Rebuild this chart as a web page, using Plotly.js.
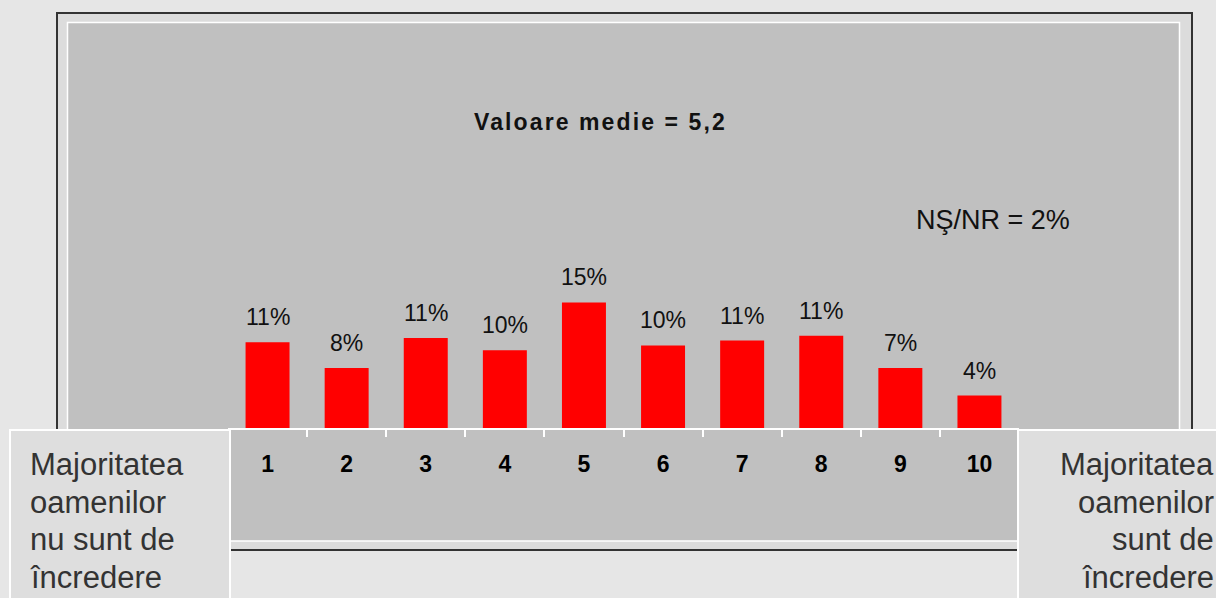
<!DOCTYPE html>
<html><head><meta charset="utf-8">
<script src="https://cdn.plot.ly/plotly-3.0.1.min.js"></script>
<style>
html,body{margin:0;padding:0;background:#e6e6e6;overflow:hidden;}
#chart{width:1216px;height:598px;}
.annotation[data-index="0"] text{letter-spacing:2.1px;}
</style></head><body><div id="chart"></div>
<script>
// ---- data ----
const categories = ['1','2','3','4','5','6','7','8','9','10'];
const values = [10.6, 7.4, 11.1, 9.6, 15.5, 10.2, 10.8, 11.4, 7.4, 4.0];
const valueLabels = ['11%','8%','11%','10%','15%','10%','11%','11%','7%','4%'];
const meanText = 'Valoare medie = 5,2';
const nsnrText = 'NŞ/NR = 2%';
const leftLines = ['Majoritatea','oamenilor','nu sunt de','încredere'];
const rightLines = ['Majoritatea','oamenilor','sunt de','încredere'];

// ---- layout helpers (pixel -> paper) ----
const W = 1216, H = 598;
const PL = 228, PR = 1019, PT = 23, PB = 428;
const fx = p => (p - PL) / (PR - PL);
const fy = p => (PB - p) / (PB - PT);
const FONT = '"Liberation Sans", Arial, sans-serif';

const trace = {
  type: 'bar',
  x: categories,
  y: values,
  marker: {color: '#ff0000', line: {width: 0}},
  hoverinfo: 'skip'
};

const annotations = [
  {xref:'paper', yref:'paper', x: fx(600), y: fy(107), xanchor:'center', yanchor:'top',
   text: meanText, showarrow:false, font:{family:FONT, size:23, color:'#111', weight:'bold'}},
  {xref:'paper', yref:'paper', x: fx(993), y: fy(203), xanchor:'center', yanchor:'top',
   text: nsnrText, showarrow:false, font:{family:FONT, size:27, color:'#111'}}
];
const lineTops = [445, 483, 520, 558];
leftLines.forEach((t, i) => {
  annotations.push({xref:'paper', yref:'paper', x: fx(28), y: fy(lineTops[i]), xanchor:'left', yanchor:'top',
    text: t, showarrow:false, font:{family:FONT, size:31, color:'#333'}});
});
rightLines.forEach((t, i) => {
  annotations.push({xref:'paper', yref:'paper', x: fx(1215.5), y: fy(lineTops[i]), xanchor:'right', yanchor:'top',
    text: t, showarrow:false, font:{family:FONT, size:31, color:'#333'}});
});
categories.forEach((c, i) => {
  annotations.push({xref:'x', yref:'y', x: i, y: values[i], xanchor:'center', yanchor:'bottom',
    yshift: 10, text: valueLabels[i], showarrow:false, font:{family:FONT, size:23, color:'#111'}});
});

const shapes = [
  {type:'rect', xref:'paper', yref:'paper', layer:'below', x0: fx(57), x1: fx(1192), y0: fy(550), y1: fy(13),
   fillcolor:'#dcdcdc', line:{color:'#333', width:2}},
  {type:'rect', xref:'paper', yref:'paper', layer:'below', x0: fx(67.5), x1: fx(1179.5), y0: fy(541), y1: fy(22.5),
   fillcolor:'#c0c0c0', line:{color:'#ffffff', width:1.5}},
  {type:'rect', xref:'paper', yref:'paper', layer:'above', x0: fx(10), x1: fx(230), y0: fy(620), y1: fy(430),
   fillcolor:'#dedede', line:{color:'#ffffff', width:2}},
  {type:'rect', xref:'paper', yref:'paper', layer:'above', x0: fx(1018), x1: fx(1240), y0: fy(620), y1: fy(430),
   fillcolor:'#dedede', line:{color:'#ffffff', width:2}}
];

const layout = {
  width: W, height: H,
  margin: {l: PL, r: W - PR, t: PT, b: H - PB, pad: 0},
  paper_bgcolor: '#e6e6e6',
  plot_bgcolor: 'rgba(0,0,0,0)',
  showlegend: false,
  bargap: 0.444,
  xaxis: {
    type: 'category', range: [-0.5, 9.5], showline: true, linecolor: '#ffffff', linewidth: 2,
    ticks: 'outside', tickson: 'boundaries', ticklen: 7, tickwidth: 2, tickcolor: '#ffffff',
    ticklabelstandoff: 14,
    tickfont: {family: FONT, size: 23, color: '#000', weight: 'bold'},
    showgrid: false, zeroline: false, fixedrange: true
  },
  yaxis: {range: [0, 50], visible: false, showgrid: false, zeroline: false, fixedrange: true},
  annotations: annotations,
  shapes: shapes
};

Plotly.newPlot('chart', [trace], layout, {displayModeBar: false, staticPlot: true});
</script></body></html>
